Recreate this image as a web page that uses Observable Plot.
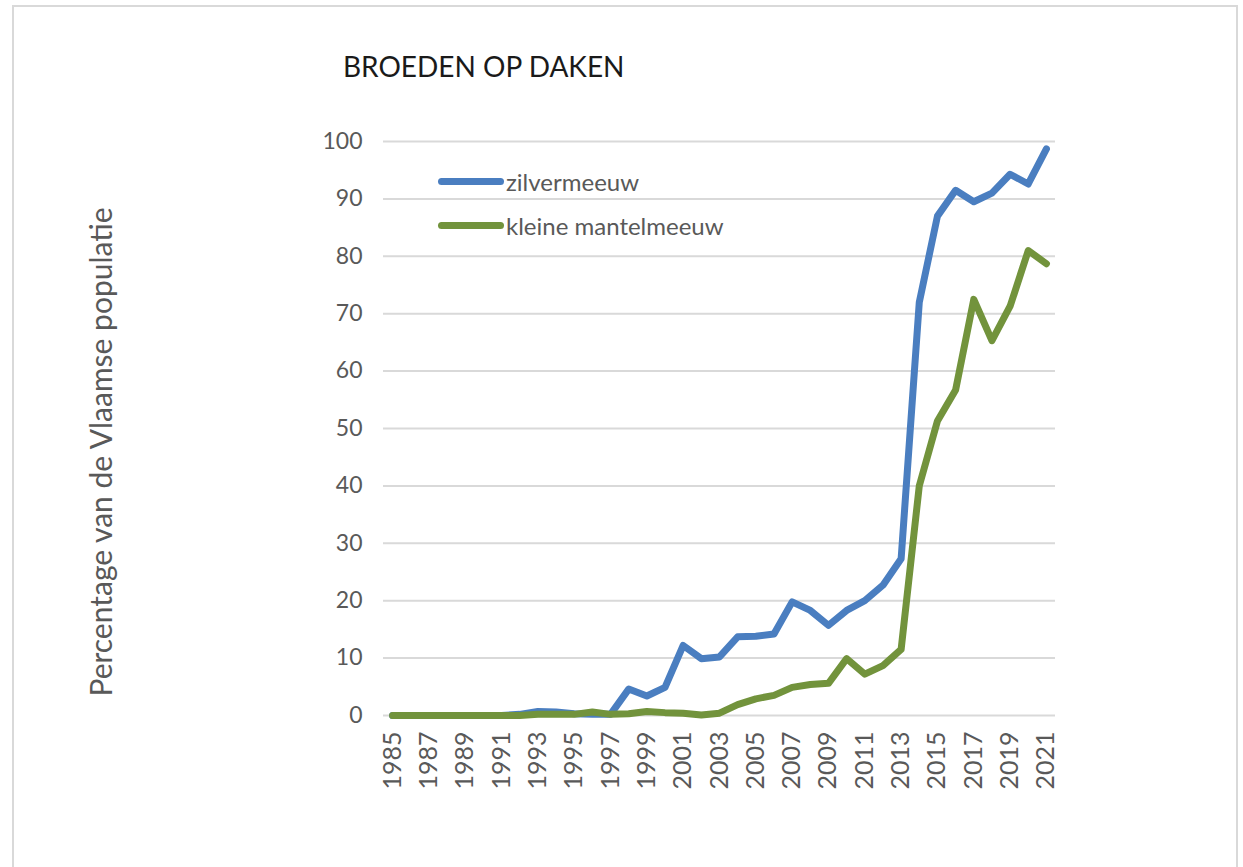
<!DOCTYPE html>
<html>
<head>
<meta charset="utf-8">
<script src="https://cdn.jsdelivr.net/npm/d3@7"></script>
<script src="https://cdn.jsdelivr.net/npm/@observablehq/plot@0.6"></script>
<style>
  html, body { margin: 0; padding: 0; background: #fff; }
  #wrap { position: relative; width: 1243px; height: 867px; overflow: hidden; font-family: Lato, "Open Sans", sans-serif; }
  #frame { position: absolute; left: 12px; top: 5px; width: 1226px; height: 880px; border: 2px solid #d9d9d9; box-sizing: border-box; }
  #title { position: absolute; left: 343px; top: 49px; font-size: 28px; color: #1a1a1a; white-space: nowrap; }
  #ylabel { position: absolute; left: 100px; top: 452px; transform: translate(-50%, -50%) rotate(-90deg); font-size: 30px; color: #595959; white-space: nowrap; }
  #chart { position: absolute; left: 0; top: 0; }
  .leg { position: absolute; left: 438px; display: flex; align-items: center; font-size: 24px; color: #595959; white-space: nowrap; }
  .leg span.sw { display: inline-block; width: 66px; height: 7px; border-radius: 4px; margin-right: 2px; }
</style>
</head>
<body>
<div id="wrap">
  <div id="frame"></div>
  <div id="chart"></div>
  <div id="title">BROEDEN OP DAKEN</div>
  <div id="ylabel"></div>
  <div id="legend"></div>
</div>
<script>
const years = d3.range(1985, 2022);
const seriesNames = ["zilvermeeuw", "kleine mantelmeeuw"];
const seriesColors = ["#4a7ec0", "#72933c"];
const zilvermeeuw = [0, 0, 0, 0, 0, 0, 0, 0.2, 0.7, 0.6, 0.3, 0.2, 0.2, 4.6, 3.4, 4.9, 12.2, 9.9, 10.2, 13.7, 13.8, 14.2, 19.8, 18.3, 15.7, 18.3, 20.0, 22.7, 27.3, 72.0, 87.0, 91.5, 89.5, 91.0, 94.3, 92.6, 98.7];
const kleineMantelmeeuw = [0, 0, 0, 0, 0, 0, 0, 0, 0.2, 0.2, 0.2, 0.6, 0.2, 0.3, 0.7, 0.5, 0.4, 0.1, 0.4, 1.9, 2.9, 3.5, 4.9, 5.4, 5.6, 9.9, 7.2, 8.7, 11.5, 40.0, 51.3, 56.7, 72.5, 65.3, 71.3, 81.0, 78.7];
const yTicks = d3.range(0, 101, 10);
const xTicks = d3.range(1985, 2022, 2);
const yLabel = "Percentage van de Vlaamse populatie";

const data = [];
years.forEach((y, i) => {
  data.push({year: y, value: zilvermeeuw[i], series: seriesNames[0]});
  data.push({year: y, value: kleineMantelmeeuw[i], series: seriesNames[1]});
});

const plot = Plot.plot({
  width: 1243,
  height: 867,
  marginLeft: 383,
  marginRight: 188,
  marginTop: 141,
  marginBottom: 152,
  style: {background: "transparent", fontFamily: "Lato, 'Open Sans', sans-serif", color: "#595959", overflow: "visible"},
  x: {domain: [1984.5, 2021.5]},
  y: {domain: [0, 100]},
  color: {domain: seriesNames, range: seriesColors},
  marks: [
    Plot.ruleY(yTicks, {stroke: "#d9d9d9", strokeWidth: 2}),
    Plot.axisY({ticks: yTicks, tickSize: 0, tickPadding: 21, fontSize: 23, label: null}),
    Plot.axisX({ticks: xTicks, tickFormat: d => String(d), tickSize: 0, tickPadding: 16, tickRotate: -90, fontSize: 25, label: null}),
    Plot.line(data, {x: "year", y: "value", z: "series", stroke: "series", strokeWidth: 7, strokeLinejoin: "round", strokeLinecap: "round"})
  ]
});
document.getElementById("chart").appendChild(plot);
document.getElementById("ylabel").textContent = yLabel;

const legend = document.getElementById("legend");
seriesNames.forEach((name, i) => {
  const d = document.createElement("div");
  d.className = "leg";
  d.style.top = (i === 0 ? 167 : 211) + "px";
  d.innerHTML = `<span class="sw" style="background:${seriesColors[i]}"></span>${name}`;
  legend.appendChild(d);
});
</script>
</body>
</html>
